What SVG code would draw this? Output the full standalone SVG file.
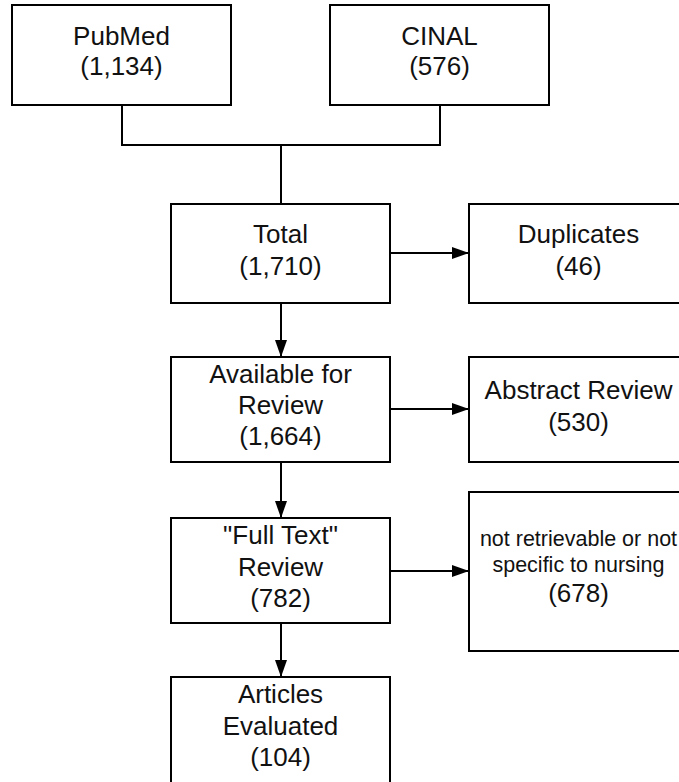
<svg xmlns="http://www.w3.org/2000/svg" width="679" height="782" viewBox="0 0 679 782">
<style>
.box{fill:#fff;stroke:#000;stroke-width:2}
.t{font-family:"Liberation Sans",Arial,sans-serif;font-size:26px;fill:#111;text-anchor:middle}
.s{font-size:21.5px}
.c{fill:none;stroke:#000;stroke-width:2}
</style>
<defs>
<marker id="ah" markerUnits="userSpaceOnUse" markerWidth="18" markerHeight="12" refX="17" refY="6" orient="auto">
<path d="M0,0 L17,6 L0,12 z" fill="#000"/>
</marker>
</defs>
<rect width="679" height="782" fill="#fff"/>
<g id="connectors">
<polyline class="c" points="122,105 122,145 440,145 440,105"/>
<line class="c" x1="281" y1="145" x2="281" y2="204"/>
<line class="c" x1="281" y1="303" x2="281" y2="357" marker-end="url(#ah)"/>
<line class="c" x1="281" y1="462" x2="281" y2="518" marker-end="url(#ah)"/>
<line class="c" x1="281" y1="623" x2="281" y2="677" marker-end="url(#ah)"/>
<line class="c" x1="390" y1="253" x2="469" y2="253" marker-end="url(#ah)"/>
<line class="c" x1="390" y1="409" x2="469" y2="409" marker-end="url(#ah)"/>
<line class="c" x1="390" y1="571" x2="469" y2="571" marker-end="url(#ah)"/>
</g>
<g id="pubmed">
<rect class="box" x="12" y="5" width="219" height="100"/>
<text class="t" x="121.5" y="45">PubMed</text>
<text class="t" x="121.5" y="75">(1,134)</text>
</g>
<g id="cinal">
<rect class="box" x="330" y="5" width="219" height="100"/>
<text class="t" x="439.5" y="45">CINAL</text>
<text class="t" x="439.5" y="75">(576)</text>
</g>
<g id="total">
<rect class="box" x="171" y="204" width="219" height="99"/>
<text class="t" x="280.5" y="243">Total</text>
<text class="t" x="280.5" y="275">(1,710)</text>
</g>
<g id="duplicates">
<rect class="box" x="469" y="204" width="219" height="99"/>
<text class="t" x="578.5" y="243">Duplicates</text>
<text class="t" x="578.5" y="275">(46)</text>
</g>
<g id="available">
<rect class="box" x="171" y="357" width="219" height="105"/>
<text class="t" x="280.5" y="383">Available for</text>
<text class="t" x="280.5" y="414">Review</text>
<text class="t" x="280.5" y="445">(1,664)</text>
</g>
<g id="abstract">
<rect class="box" x="469" y="357" width="219" height="105"/>
<text class="t" x="578.5" y="399">Abstract Review</text>
<text class="t" x="578.5" y="431">(530)</text>
</g>
<g id="fulltext">
<rect class="box" x="171" y="518" width="219" height="105"/>
<text class="t" x="280.5" y="544">"Full Text"</text>
<text class="t" x="280.5" y="575.5">Review</text>
<text class="t" x="280.5" y="607">(782)</text>
</g>
<g id="excluded">
<rect class="box" x="469" y="492" width="219" height="159"/>
<text class="t s" x="578.5" y="546">not retrievable or not</text>
<text class="t s" x="578.5" y="572">specific to nursing</text>
<text class="t" x="578.5" y="602">(678)</text>
</g>
<g id="articles">
<rect class="box" x="171" y="677" width="219" height="106"/>
<text class="t" x="280.5" y="703">Articles</text>
<text class="t" x="280.5" y="735">Evaluated</text>
<text class="t" x="280.5" y="766">(104)</text>
</g>
</svg>
